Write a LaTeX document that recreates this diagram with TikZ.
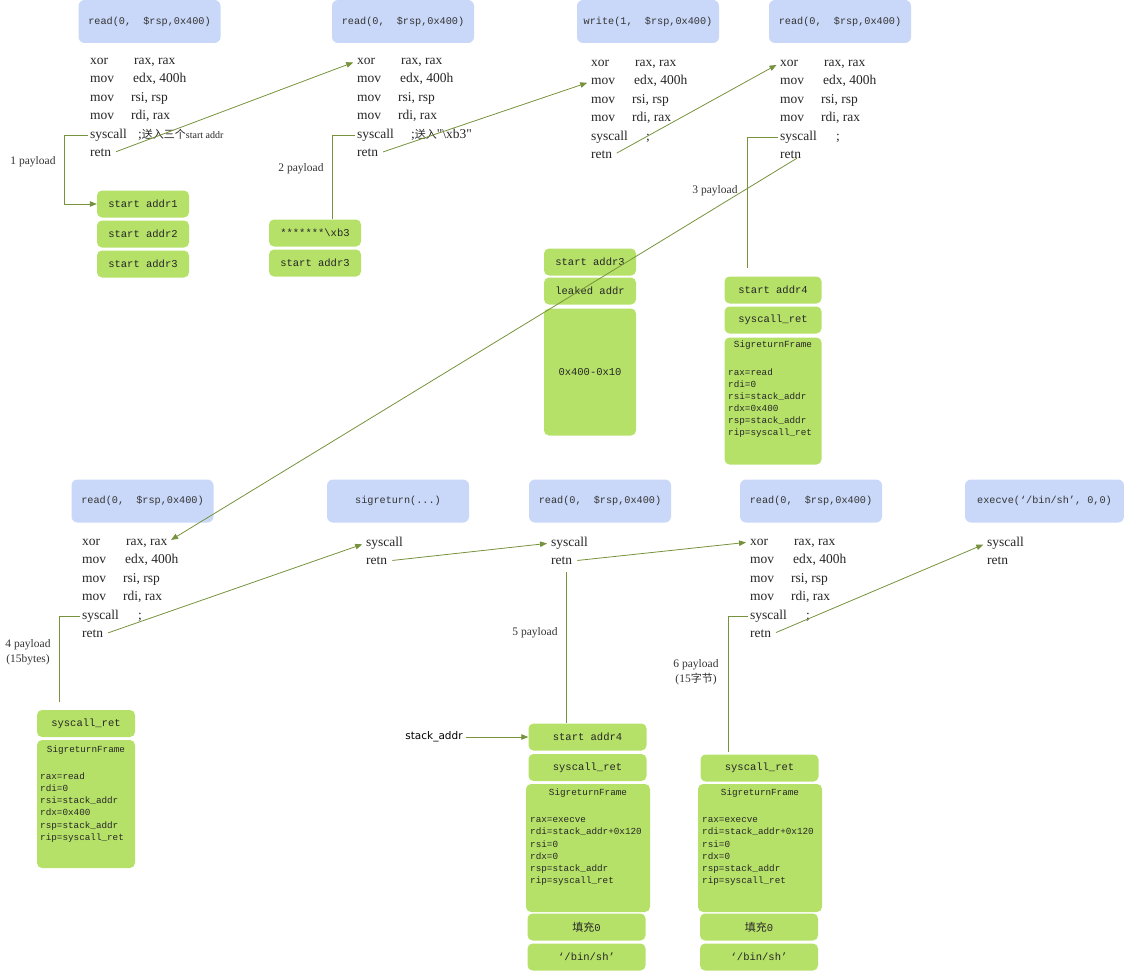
\documentclass[tikz,border=0pt]{standalone}
\usepackage{fontspec}
\setmainfont{Liberation Serif}
\setmonofont{Liberation Mono}
\newfontfamily\cjk{Noto Sans CJK SC}
\newfontfamily\labfont{DejaVu Sans}
\usetikzlibrary{arrows.meta}

\definecolor{hdrblue}{RGB}{201,216,248}
\definecolor{stkgreen}{RGB}{182,225,105}
\definecolor{linkgreen}{RGB}{118,146,60}
\definecolor{inkgray}{RGB}{51,51,51}

\newcommand{\zh}[1]{{\cjk\fontsize{11}{13}\selectfont #1}}

\tikzset{
  hdr/.style={rounded corners=6pt, fill=hdrblue, minimum width=142pt, minimum height=43pt, inner sep=0pt, text=inkgray, font=\ttfamily\fontsize{10.2}{12}\selectfont},
  stk/.style={rounded corners=5pt, fill=stkgreen, minimum width=92pt, minimum height=27pt, inner sep=0pt, text=black!85, font=\ttfamily\fontsize{10.5}{12}\selectfont},
  code/.style={anchor=west, inner sep=0pt, text height=9.5pt, text depth=3pt, text=black!85, font=\fontsize{13.5}{16}\selectfont},
  fline/.style={anchor=west, inner sep=0pt, text height=6.5pt, text depth=2pt, text=black!85, font=\ttfamily\fontsize{9.3}{12}\selectfont},
  lbl/.style={align=center, inner sep=0pt, text=inkgray, font=\fontsize{11.5}{15}\selectfont},
  link/.style={draw=linkgreen, line width=0.8pt, shorten <=5pt, shorten >=4pt, -{Triangle[length=7pt,width=5.5pt]}},
  tie/.style={draw=linkgreen, line width=0.8pt, shorten <=2pt}
}

% one block of the read gadget: name, x, y of first line, offset of comment, comment
\newcommand{\asmcode}[5]{%
  \foreach \i/\op/\arg/\dx in {1/xor/{rax, rax}/44, 2/mov/{edx, 400h}/43, 3/mov/{rsi, rsp}/41, 4/mov/{rdi, rax}/41}{
    \node[code] (#1-\i) at (#2, #3+18.5*\i-18.5) {\op};
    \node[code] (#1-\i-o) at (#2+\dx, #3+18.5*\i-18.5) {\arg};
  }
  \node[code] (#1-5) at (#2, #3+74) {syscall};
  \node[code] (#1-5-o) at (#2+#4, #3+74) {#5};
  \node[code] (#1-6) at (#2, #3+92.5) {retn};
}

\begin{document}
\begin{tikzpicture}[x=1pt, y=-1pt]
\useasboundingbox (0,0) rectangle (1124,971);

\node[hdr] (h1) at (149.5,21.5) {read(0,\ \ \$rsp,0x400)};
\node[hdr] (h2) at (403,21.5) {read(0,\ \ \$rsp,0x400)};
\node[hdr] (h3) at (648,21.5) {write(1,\ \ \$rsp,0x400)};
\node[hdr] (h4) at (840,21.5) {read(0,\ \ \$rsp,0x400)};
\node[hdr] (h5) at (142.5,501) {read(0,\ \ \$rsp,0x400)};
\node[hdr] (h6) at (398,501) {sigreturn(...)};
\node[hdr] (h7) at (600,501) {read(0,\ \ \$rsp,0x400)};
\node[hdr] (h8) at (811,501) {read(0,\ \ \$rsp,0x400)};
\node[hdr, minimum width=159pt] (h9) at (1044.5,501) {execve(‘/bin/sh’,\ 0,0)};

\asmcode{b1}{90}{61}{48}{;\zh{送入三个}{\fontsize{10}{12}\selectfont start addr}}
\asmcode{b2}{357}{61}{54}{;\zh{送入}\textquotedbl\textbackslash xb3\textquotedbl}
\asmcode{b3}{591}{63}{55}{;}
\asmcode{b4}{780}{63}{56}{;}
\asmcode{b5}{82}{542}{56}{;}
\asmcode{b8}{750}{542}{56}{;}
\node[code] (b6-1) at (366,543) {syscall};
\node[code] (b6-2) at (366,561) {retn};
\node[code] (b7-1) at (551,543) {syscall};
\node[code] (b7-2) at (551,561) {retn};
\node[code] (b9-1) at (987,543) {syscall};
\node[code] (b9-2) at (987,561) {retn};

% stacks
\node[stk] (s1a) at (143,204) {start addr1};
\node[stk] (s1b) at (143,234) {start addr2};
\node[stk] (s1c) at (143,264) {start addr3};
\node[stk] (s2a) at (315,233) {*******\textbackslash xb3};
\node[stk] (s2b) at (315,263) {start addr3};
\node[stk] (s3a) at (590,262) {start addr3};
\node[stk] (s3b) at (590,291) {leaked addr};
\node[stk, minimum height=127pt] (s3c) at (590,372) {0x400-0x10};

\node[stk, minimum width=97pt] (s4a) at (773,290) {start addr4};
\node[stk, minimum width=97pt] (s4b) at (773,320) {syscall\_ret};
\node[stk, minimum width=97pt, minimum height=127pt] (f4) at (773,401) {};
\node[fline, anchor=center] (f4-t) at (773,345.5) {SigreturnFrame};
\foreach \t [count=\k] in {rax=read, rdi=0, rsi=stack\_addr, rdx=0x400, rsp=stack\_addr, rip=syscall\_ret}
  \node[fline] (f4-\k) at (728, 361.3+12*\k) {\t};

\node[stk, minimum width=98pt] (s5a) at (86,723.5) {syscall\_ret};
\node[stk, minimum width=98pt, minimum height=128pt] (f5) at (86,804) {};
\node[fline, anchor=center] (f5-t) at (86,750) {SigreturnFrame};
\foreach \t [count=\k] in {rax=read, rdi=0, rsi=stack\_addr, rdx=0x400, rsp=stack\_addr, rip=syscall\_ret}
  \node[fline] (f5-\k) at (40, 764.8+12.2*\k) {\t};

\node[stk, minimum width=118pt] (s6a) at (587.5,737) {start addr4};
\node[stk, minimum width=118pt] (s6b) at (587.5,767.5) {syscall\_ret};
\node[stk, minimum width=124pt, minimum height=128pt] (f6) at (588,848) {};
\node[fline, anchor=center] (f6-t) at (588,793.3) {SigreturnFrame};
\foreach \t [count=\k] in {rax=execve, rdi=stack\_addr+0x120, rsi=0, rdx=0, rsp=stack\_addr, rip=syscall\_ret}
  \node[fline] (f6-\k) at (530, 808.3+12.2*\k) {\t};
\node[stk, minimum width=118pt] (s6c) at (586.5,927) {\zh{填充}0};
\node[stk, minimum width=118pt] (s6d) at (586.5,957) {‘/bin/sh’};

\node[stk, minimum width=118pt] (s7a) at (759.5,768) {syscall\_ret};
\node[stk, minimum width=124pt, minimum height=128pt] (f7) at (760,848) {};
\node[fline, anchor=center] (f7-t) at (760,793.3) {SigreturnFrame};
\foreach \t [count=\k] in {rax=execve, rdi=stack\_addr+0x120, rsi=0, rdx=0, rsp=stack\_addr, rip=syscall\_ret}
  \node[fline] (f7-\k) at (702, 808.3+12.2*\k) {\t};
\node[stk, minimum width=118pt] (s7b) at (759,927) {\zh{填充}0};
\node[stk, minimum width=118pt] (s7c) at (759,957) {‘/bin/sh’};

% labels
\node[lbl] (p1) at (33,162) {1 payload};
\node[lbl] (p2) at (301,169) {2 payload};
\node[lbl] (p3) at (715,191) {3 payload};
\node[lbl] (p4) at (28,652) {4 payload\\(15bytes)};
\node[lbl] (p5) at (535,633) {5 payload};
\node[lbl] (p6) at (696,672) {6 payload\\(15\zh{字节})};
\node[inner sep=0pt, text=black, font=\labfont\fontsize{10.5}{12}\selectfont] (sa) at (434,737) {stack\_addr};

% control flow
\draw[link] (b1-6.east) -- (b2-1.west);
\draw[link] (b2-6.east) -- (b3-2.west);
\draw[link] (b3-6.east) -- (b4-1.west);
\draw[link] (b4-6.east) -- (b5-1-o.east);
\draw[link] (b5-6.east) -- (b6-1.west);
\draw[link] (b6-2.east) -- (b7-1.west);
\draw[link] (b7-2.east) -- (b8-1.west);
\draw[link] (b8-6.east) -- (b9-1.west);
\draw[link, shorten <=3pt, shorten >=0pt] (sa.east) -- (s6a.west);

% payloads
\draw[tie, -{Triangle[length=7pt,width=5.5pt]}] (b1-5.west) -- ++(-26,0) |- (s1a.west);
\path (b2-5.west) ++(-25,0) coordinate (k2);
\draw[tie] (b2-5.west) -- (k2) -- (k2 |- s2a.north);
\path (b4-5.west) ++(-33,0) coordinate (k3);
\draw[tie, shorten >=8pt] (b4-5.west) -- (k3) -- (k3 |- s4a.north);
\path (b5-5.west) ++(-23,0) coordinate (k4);
\draw[tie, shorten >=8pt] (b5-5.west) -- (k4) -- (k4 |- s5a.north);
\coordinate (k5) at ([xshift=5pt]b7-2.south);
\draw[tie, shorten <=5pt] (k5) -- (k5 |- s6a.north);
\path (b8-5.west) ++(-22,0) coordinate (k6);
\draw[tie, shorten >=2pt] (b8-5.west) -- (k6) -- (k6 |- s7a.north);
\end{tikzpicture}
\end{document}
